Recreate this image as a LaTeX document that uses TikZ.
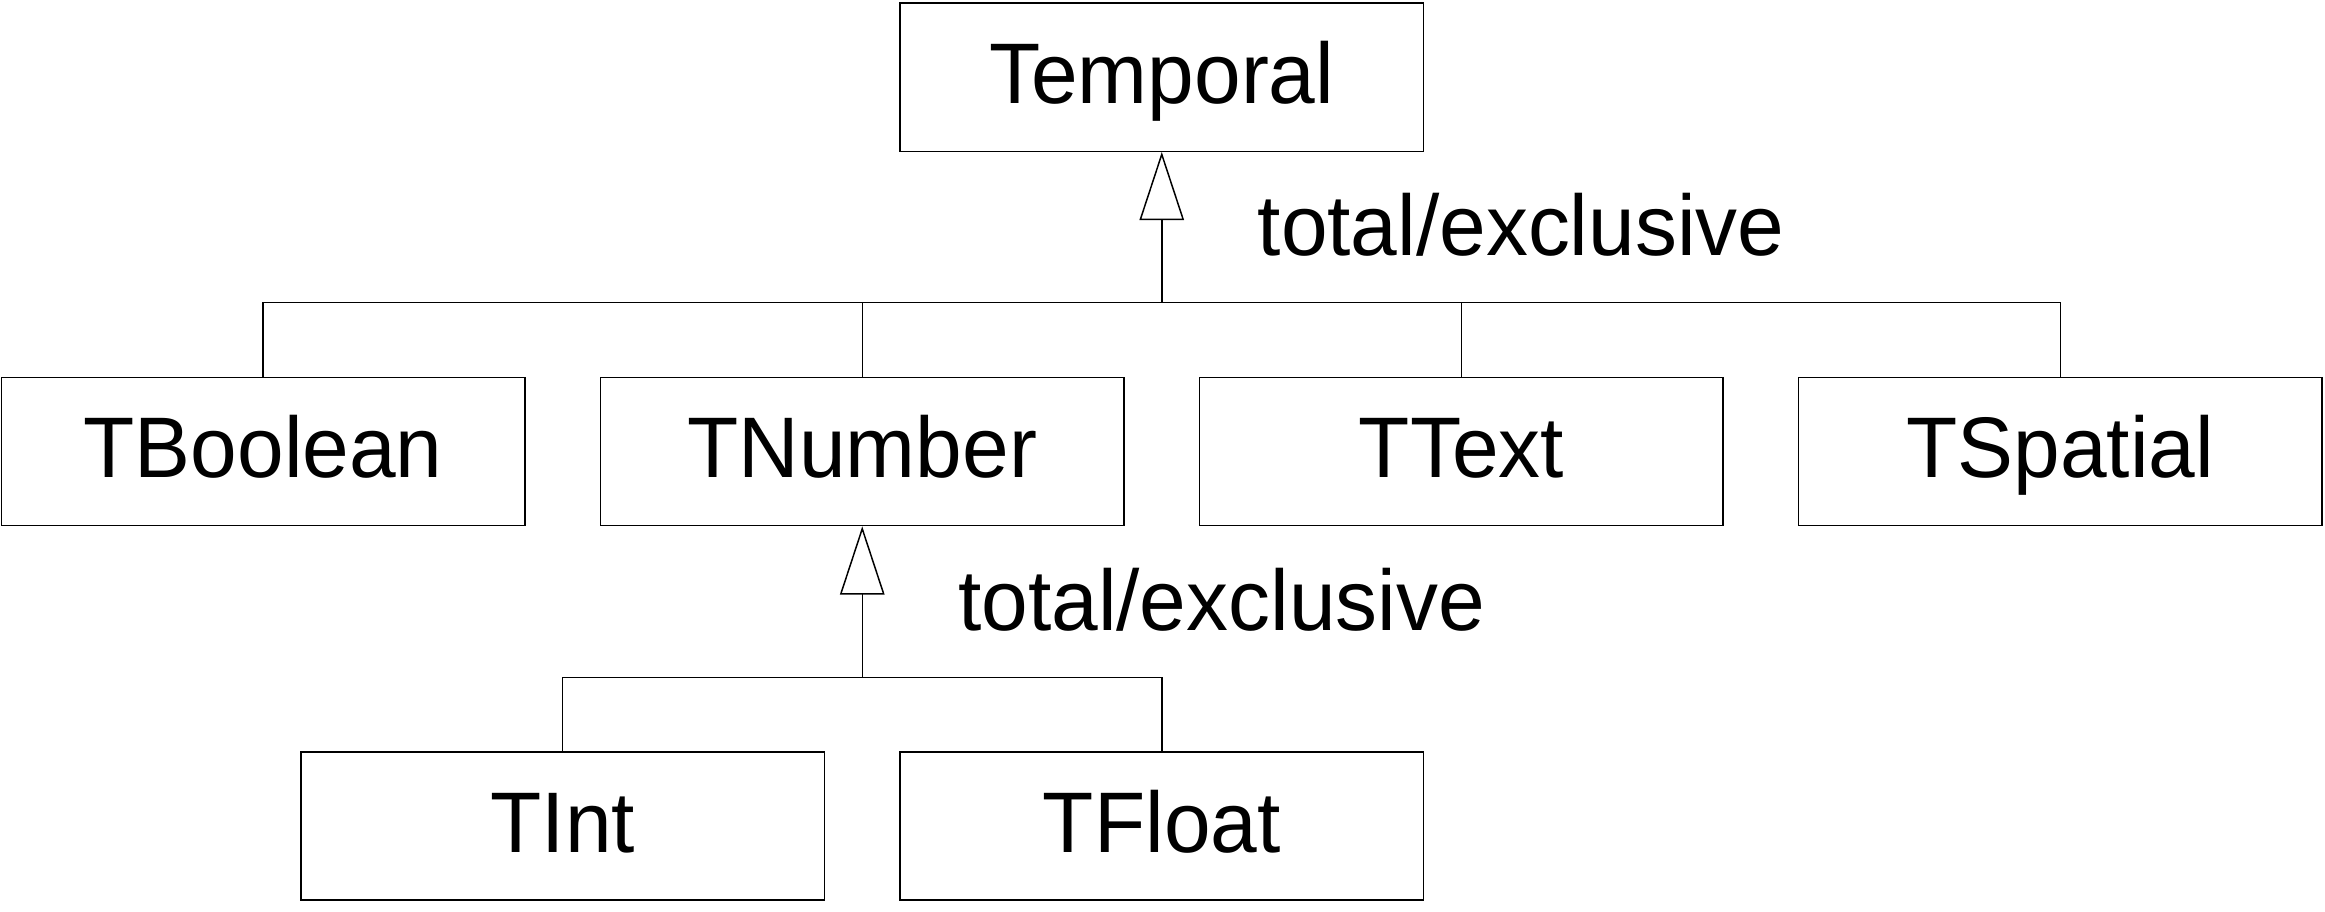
\documentclass[tikz,border=0pt]{standalone}
\usepackage{fontspec}
\setmainfont{Liberation Sans}[FakeStretch=0.975]
\usetikzlibrary{arrows.meta}
\begin{document}
\begin{tikzpicture}[x=1pt,y=-1pt,
  cls/.style={draw,line width=1pt,minimum width=353pt,minimum height=100pt,inner sep=0pt,
    text height=45pt,text depth=9.8pt,font=\fontsize{58}{62}\selectfont},
  lbl/.style={anchor=base west,inner sep=0pt,font=\fontsize{58}{62}\selectfont},
  wire/.style={line width=1pt},
  gen/.style={line width=1pt,-{Triangle[open,length=46pt,width=30pt,line width=1pt]}}]
\useasboundingbox (0,0) rectangle (1568,615);
\node[cls] (temporal) at (783.5,52) {Temporal};
\node[cls] (tbool) at (177.5,304.5) {TBoolean};
\node[cls] (tnum) at (581.5,304.5) {TNumber};
\node[cls] (ttext) at (985.5,304.5) {TText};
\node[cls] (tspat) at (1389.5,304.5) {TSpatial};
\node[cls] (tint) at (379.5,557) {TInt};
\node[cls] (tfloat) at (783.5,557) {TFloat};
\coordinate (b1) at (783.5,204);
\coordinate (b2) at (581.5,457);
\draw[wire] (tbool.north) |- (b1) -| (tspat.north);
\draw[wire] (tnum.north) -- (tnum.north |- b1);
\draw[wire] (ttext.north) -- (ttext.north |- b1);
\draw[gen] (b1) -- (temporal.south);
\draw[wire] (tint.north) |- (b2) -| (tfloat.north);
\draw[gen] (b2) -- (tnum.south);
\node[lbl] (l1) at (848,172) {total/exclusive};
\node[lbl] (l2) at (646,425) {total/exclusive};
\end{tikzpicture}
\end{document}
